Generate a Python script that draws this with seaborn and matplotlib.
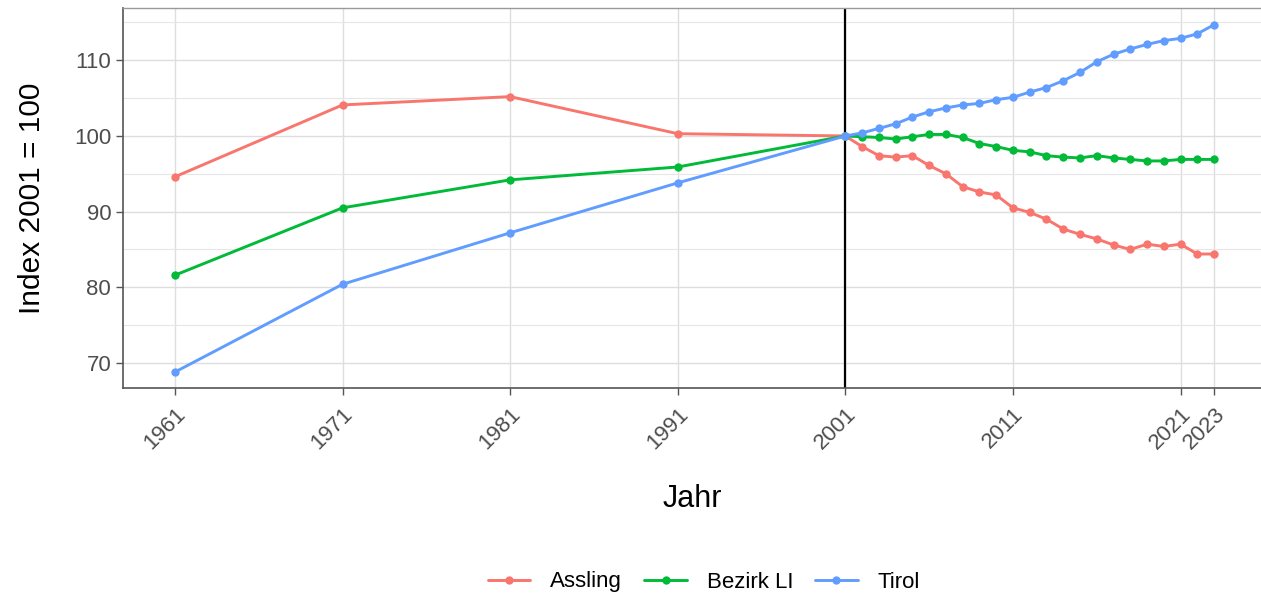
import numpy as np
import pandas as pd
import matplotlib
matplotlib.use("Agg")
import matplotlib.pyplot as plt
import seaborn as sns
from matplotlib.ticker import MultipleLocator

years = [1961, 1971, 1981, 1991] + list(range(2001, 2024))

assling = [94.6, 104.1, 105.2, 100.3,
           100.0, 98.6, 97.4, 97.2, 97.4, 96.1, 95.0, 93.3, 92.6, 92.2,
           90.5, 89.9, 89.0, 87.7, 87.0, 86.4, 85.6, 85.0, 85.7, 85.4,
           85.7, 84.4, 84.4]
bezirk_li = [81.6, 90.5, 94.2, 95.9,
             100.0, 99.9, 99.8, 99.6, 99.9, 100.2, 100.2, 99.8, 99.0, 98.6,
             98.1, 97.9, 97.4, 97.2, 97.1, 97.4, 97.1, 96.9, 96.7, 96.7,
             96.9, 96.9, 96.9]
tirol = [68.8, 80.4, 87.2, 93.8,
         100.0, 100.4, 101.0, 101.6, 102.5, 103.2, 103.7, 104.1, 104.3, 104.8,
         105.1, 105.8, 106.4, 107.3, 108.4, 109.8, 110.8, 111.5, 112.1, 112.6,
         112.9, 113.5, 114.7]

regions = ["Assling", "Bezirk LI", "Tirol"]
colors = ["#F8766D", "#00BA38", "#619CFF"]
x_ticks = [1961, 1971, 1981, 1991, 2001, 2011, 2021, 2023]

df = pd.DataFrame({
    "Jahr": years * 3,
    "Index": assling + bezirk_li + tirol,
    "Region": [r for r in regions for _ in years],
})

sns.set_style("white")
plt.rcParams["font.family"] = ["Liberation Sans", "DejaVu Sans"]

fig = plt.figure(figsize=(12.61, 5.95), dpi=100)
ax = fig.add_axes([0.0975, 0.348, 0.9025, 0.6384])

ax.axvline(2001, color="black", lw=1.6, zorder=1)
sns.lineplot(data=df, x="Jahr", y="Index", hue="Region", palette=colors,
             marker="o", markersize=6, markeredgewidth=0, lw=2.1, ax=ax, zorder=3)

ax.set_xlim(1957.9, 2025.8)
ax.set_ylim(66.7, 116.9)
ax.set_xticks(x_ticks)
ax.set_xticklabels([str(x) for x in x_ticks], rotation=45, ha="right",
                   va="top", rotation_mode="anchor")
ax.yaxis.set_major_locator(MultipleLocator(10))
ax.yaxis.set_minor_locator(MultipleLocator(5))
ax.grid(True, which="major", color="#DEDEDE", lw=1.0)
ax.grid(True, which="minor", axis="y", color="#E6E6E6", lw=0.8)
ax.set_axisbelow(True)

ax.tick_params(axis="both", which="major", labelsize=16, labelcolor="#4D4D4D",
               color="#555555", length=5, width=1, bottom=True, left=True)
ax.tick_params(axis="x", which="major", pad=6)
ax.tick_params(axis="y", which="minor", length=0)

for side in ["left", "bottom"]:
    ax.spines[side].set_color("#555555")
    ax.spines[side].set_linewidth(1.2)
ax.spines["top"].set_color("#9A9A9A")
ax.spines["top"].set_linewidth(1.0)
ax.spines["right"].set_visible(False)

ax.set_xlabel("Jahr", fontsize=22, labelpad=22, color="black")
ax.set_ylabel("Index 2001 = 100", fontsize=21.5, labelpad=20, color="black")

handles, labels = ax.get_legend_handles_labels()
ax.get_legend().remove()
leg = fig.legend(handles, labels, loc="center", bbox_to_anchor=(704 / 1261, 1 - 582 / 595),
                 ncol=3, frameon=False, fontsize=16, handlelength=1.9, columnspacing=1.0,
                 handletextpad=0.9)
for t in leg.get_texts():
    t.set_color("black")

fig.savefig("out.png", dpi=100)
